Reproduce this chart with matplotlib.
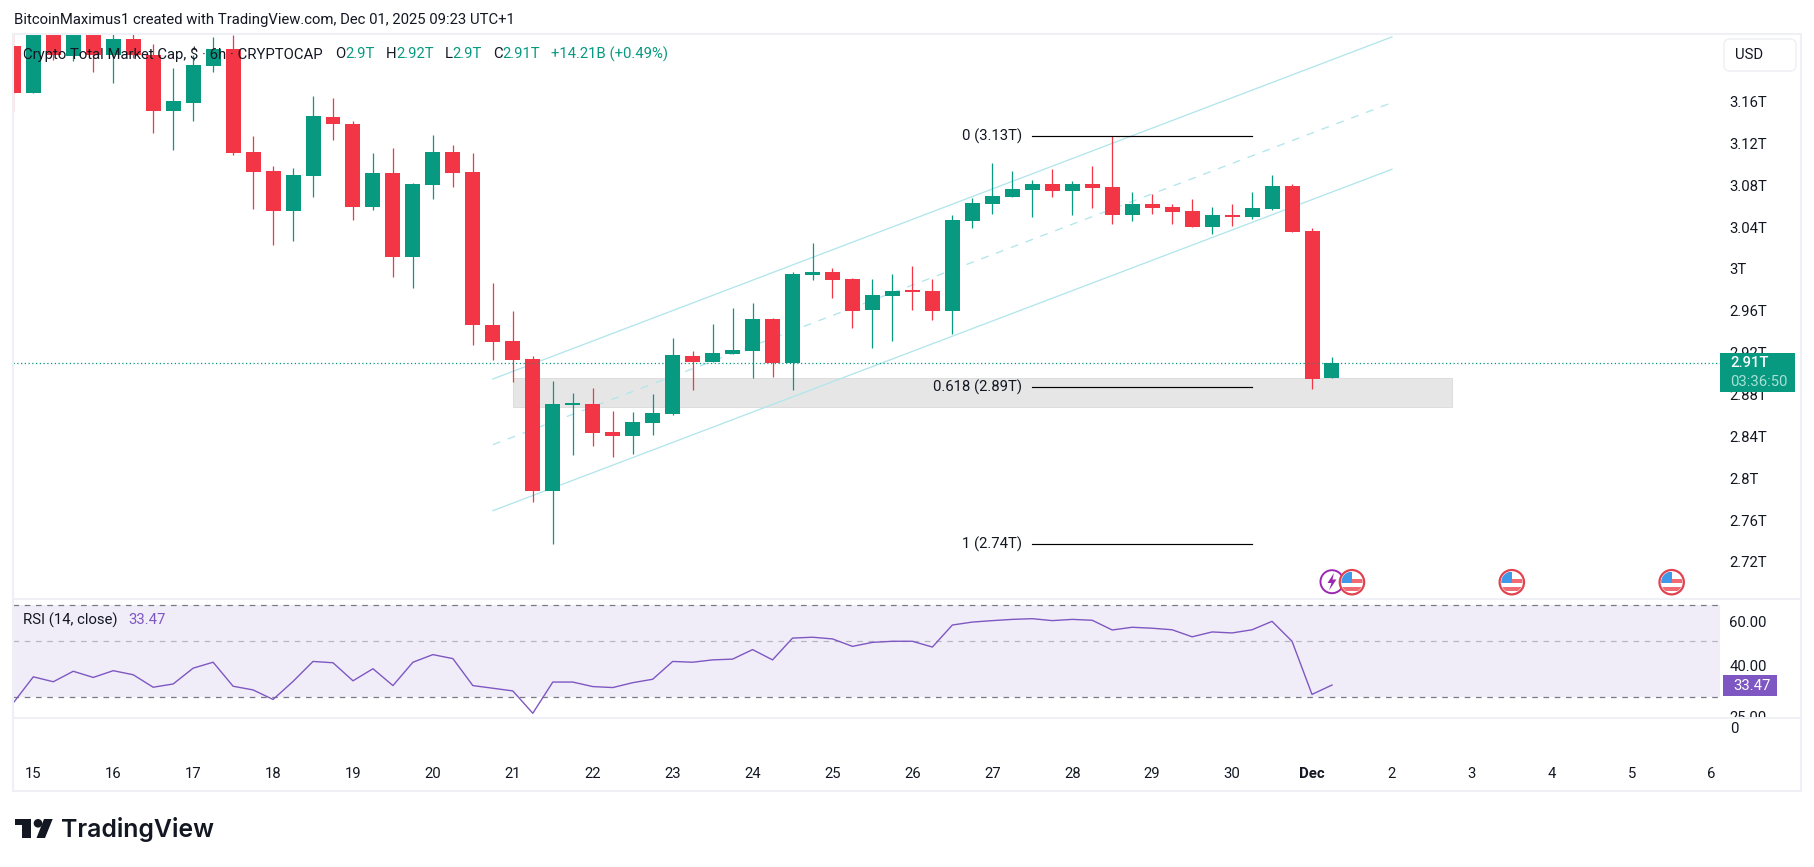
import matplotlib
matplotlib.use("Agg")
import matplotlib.pyplot as plt
from matplotlib.patches import Circle, FancyBboxPatch, Polygon, Rectangle
from matplotlib.ticker import NullLocator
from matplotlib.transforms import Bbox, ScaledTranslation

plt.rcParams["font.family"] = ["Roboto", "DejaVu Sans"]

# Six-hour candles of total crypto market cap, in billions of USD
opens = [3216, 3171, 3241, 3206, 3237, 3207, 3223, 3207, 3154, 3162, 3197, 3213, 3115, 3097, 3058, 3092, 3148,
         3141, 3062, 3095, 3014, 3083, 3115, 3096, 2949, 2934, 2917, 2791, 2873, 2874, 2847, 2843, 2856, 2864,
         2920, 2914, 2922, 2924, 2955, 2913, 2997, 3000, 2993, 2964, 2977, 2982, 2982, 2963, 3049, 3065, 3072,
         3078, 3084, 3077, 3084, 3081, 3054, 3065, 3062, 3058, 3043, 3054, 3053, 3060, 3082, 3039, 2898.5]
highs = [3236, 3250, 3250, 3250, 3245, 3232, 3232, 3218, 3195, 3207, 3225, 3227, 3130, 3101, 3099, 3168, 3166,
         3144, 3114, 3119, 3085, 3131, 3121, 3114, 2989, 2963, 2920, 2896, 2884, 2889, 2867, 2866, 2883, 2937,
         2924, 2950, 2966, 2970, 2956, 3000, 3028, 3004, 2994, 2993, 2998, 3006, 2993, 3054, 3071, 3104, 3097,
         3088, 3098, 3087, 3101, 3130, 3076, 3075, 3065, 3070, 3062, 3065, 3076, 3093, 3084, 3042, 2919]
lows = [3153, 3171, 3203, 3202, 3191, 3181, 3205, 3133, 3117, 3144, 3191, 3112, 3060, 3026, 3030, 3072, 3126,
        3050, 3059, 2995.5, 2985, 3070, 3081, 2930, 2916, 2895, 2780, 2740, 2825, 2834, 2823, 2826, 2844, 2863,
        2887, 2914, 2922, 2899, 2900, 2887, 2992, 2975, 2946, 2927, 2934, 2964, 2954, 2941, 3042, 3055, 3072,
        3053, 3072, 3054, 3061, 3046, 3049, 3055, 3046, 3043, 3036, 3044, 3051, 3059, 3038, 2888, 2898.5]
closes = [3171, 3241, 3207, 3239, 3207, 3223, 3207, 3154, 3163, 3198, 3213, 3114, 3096, 3058, 3093, 3149, 3141,
          3062, 3095, 3014, 3084, 3115, 3095, 2949, 2933, 2916, 2791, 2874, 2874, 2846, 2843, 2857, 2865, 2921,
          2914, 2923, 2925, 2955, 2913, 2998, 3000, 2992, 2963, 2978, 2982, 2981, 2963, 3050, 3066, 3073, 3079,
          3084, 3077, 3084, 3080, 3054, 3065, 3061, 3057, 3043, 3054, 3053, 3061, 3082, 3038, 2898, 2912.7]
first_candle = -1

# RSI(14) for the same candles
rsi = [28.4, 36.1, 34.5, 38.0, 35.9, 38.2, 36.8, 32.8, 33.8, 39.1, 41.3, 33.1, 32.0, 29.3, 34.6, 41.6, 41.1,
       34.8, 38.9, 33.3, 41.3, 44.3, 42.7, 33.3, 32.5, 31.7, 25.8, 34.4, 34.4, 33.0, 32.7, 34.2, 35.3, 41.6,
       41.3, 42.2, 42.5, 46.4, 42.2, 51.6, 52.0, 51.2, 47.8, 49.6, 50.1, 50.1, 47.5, 58.2, 59.8, 60.6, 61.3,
       61.7, 60.6, 61.3, 60.8, 55.6, 57.0, 56.5, 55.7, 52.2, 54.6, 54.1, 55.7, 60.2, 50.1, 30.7, 33.47]
rsi_bands = [70, 50, 30]
rsi_ticks = [60, 40, 25]

# Fibonacci levels and the parallel channel, on the candle-index scale
fib_levels = [3130, 2890, 2740]
fib_names = ["0 (3.13T)", "0.618 (2.89T)", "1 (2.74T)"]
fib_span = [50, 61]
channel_span = [23, 68]
channel_upper = [2897.7, 3224.7]
channel_middle = [2834.9, 3161.9]
channel_lower = [2771.8, 3098.2]
zone_span = [24, 71]
zone_range = [2871.2, 2898.4]

price_ticks = [3160, 3120, 3080, 3040, 3000, 2960, 2920, 2880, 2840, 2800, 2760, 2720]
price_labels = ["3.16T", "3.12T", "3.08T", "3.04T", "3T", "2.96T", "2.92T", "2.88T", "2.84T", "2.8T", "2.76T", "2.72T"]
day_ticks = [0, 4, 8, 12, 16, 20, 24, 28, 32, 36, 40, 44, 48, 52, 56, 60, 64, 68, 72, 76, 80, 84]
day_labels = ["15", "16", "17", "18", "19", "20", "21", "22", "23", "24", "25", "26", "27", "28", "29", "30",
              "Dec", "2", "3", "4", "5", "6"]
last_price = 2912.7
event_candles = [66, 74, 82]

GREEN = "#089981"
RED = "#f23645"
PURPLE = "#7e57c2"
INK = "#131722"
FRAME = "#eef0f5"
CHANNEL = "#b2e6ec"
W, H = 1814, 867
FS = 10.7


def pane(fig, left, top, right, bottom, **kw):
    return fig.add_axes([left / W, 1 - bottom / H, (right - left) / W, (bottom - top) / H], **kw)


fig = plt.figure(figsize=(W / 100, H / 100), dpi=100, facecolor="white")
xlim = (-1.016, 84.42)

# Price pane
ax = pane(fig, 13, 34, 1720, 599)
ax.set_xlim(*xlim)
ax.set_ylim(2687.4, 3227.5)
for s in ax.spines.values():
    s.set_visible(False)
ax.set_xticks([])
ax.yaxis.tick_right()
ax.set_yticks(price_ticks, price_labels)
ax.tick_params(axis="y", length=0, pad=6.6, labelsize=FS, labelcolor=INK)
nudge = ScaledTranslation(0, 3 / 100, fig.dpi_scale_trans)
for tick in ax.yaxis.get_major_ticks():
    tick.label2.set_transform(tick.label2.get_transform() + nudge)

ax.add_patch(Rectangle((zone_span[0], zone_range[0]), zone_span[1] - zone_span[0], zone_range[1] - zone_range[0],
                       facecolor="#e6e6e6", edgecolor="#dddddd", linewidth=0.7, zorder=1))
ax.plot(channel_span, channel_upper, color=CHANNEL, lw=0.95, zorder=2)
ax.plot(channel_span, channel_lower, color=CHANNEL, lw=0.95, zorder=2)
ax.plot(channel_span, channel_middle, color=CHANNEL, lw=0.95, ls=(0, (6, 6)), zorder=2)

for i, (o, h, l, c) in enumerate(zip(opens, highs, lows, closes)):
    k = first_candle + i
    col = GREEN if c >= o else RED
    ax.vlines(k, l, h, color=col, lw=0.9, zorder=3)
    ax.bar(k, max(abs(c - o), 1.4), width=0.75, bottom=min(o, c), color=col, linewidth=0, zorder=4)

ax.axhline(last_price, color=GREEN, lw=0.9, ls=(0, (1, 2)), zorder=5)

for level, name in zip(fib_levels, fib_names):
    ax.plot(fib_span, [level, level], color="black", lw=0.85, zorder=6)
    ax.annotate(name, (fib_span[0], level), xytext=(-7.5, 0), textcoords="offset points",
                ha="right", va="center", fontsize=FS, color=INK, zorder=7)

# RSI pane
rx = pane(fig, 13, 599, 1720, 718)
rx.set_xlim(*xlim)
rx.set_yscale("log")
rx.set_ylim(24.7, 73.97)
for s in rx.spines.values():
    s.set_visible(False)
rx.set_xticks([])
rx.yaxis.tick_right()
rx.yaxis.set_minor_locator(NullLocator())
rx.set_yticks(rsi_ticks, [f"{v:.2f}" for v in rsi_ticks])
rx.yaxis.set_minor_locator(NullLocator())
rx.tick_params(axis="y", length=0, pad=6.6, labelsize=FS, labelcolor=INK)
clip = Bbox([[1720, 867 - 717], [1814, 867 - 599]])
for tick in rx.yaxis.get_major_ticks():
    tick.label2.set_clip_on(True)
    tick.label2.set_clip_box(clip)
rx.axhspan(rsi_bands[2], rsi_bands[0], facecolor=PURPLE, alpha=0.1, linewidth=0, zorder=1)
rx.axhline(rsi_bands[0], color="#787b86", lw=0.9, ls=(0, (4.5, 4.5)), zorder=2)
rx.axhline(rsi_bands[1], color="#b5b7bf", lw=0.9, ls=(0, (4.5, 4.5)), zorder=2)
rx.axhline(rsi_bands[2], color="#787b86", lw=0.9, ls=(0, (4.5, 4.5)), zorder=2)
rx.plot(range(first_candle, first_candle + len(rsi)), rsi, color=PURPLE, lw=1.0, zorder=3)

# Time scale
tx = pane(fig, 13, 718, 1720, 766)
tx.set_xlim(*xlim)
tx.set_yticks([])
for s in tx.spines.values():
    s.set_visible(False)
tx.set_xticks(day_ticks, day_labels)
tx.tick_params(axis="x", length=0, pad=1.0, labelsize=FS, labelcolor=INK)
for lab, txt in zip(tx.get_xticklabels(), day_labels):
    if txt == "Dec":
        lab.set_fontweight("bold")

# Pixel-addressed layer for the window frame, header, legends, price tags and logo
ov = fig.add_axes([0, 0, 1, 1], zorder=10)
ov.set_xlim(0, W)
ov.set_ylim(H, 0)
ov.axis("off")
ov.patch.set_alpha(0)

ov.plot([13, 13, 1801, 1801, 13], [34, 791, 791, 34, 34], color=FRAME, lw=1.5)
ov.plot([13, 1801], [599, 599], color=FRAME, lw=1.4)
ov.plot([13, 1801], [718, 718], color=FRAME, lw=1.4)


def put(x, y, s, color=INK, size=FS, ha="left", **kw):
    ov.text(x, y, s, color=color, fontsize=size, ha=ha, va="center", **kw)


put(13.5, 20, "BitcoinMaximus1 created with TradingView.com, Dec 01, 2025 09:23 UTC+1")
put(23, 54, "Crypto Total Market Cap, $ · 6h · CRYPTOCAP")
for x, s, c in [(335, "O", INK), (345, "2.9T", GREEN), (386, "H", INK), (396, "2.92T", GREEN),
                (445, "L", INK), (452.5, "2.9T", GREEN), (493, "C", INK), (502, "2.91T", GREEN),
                (551, "+14.21B (+0.49%)", GREEN)]:
    put(x, 54, s, color=c)
put(23, 620, "RSI (14, close)")
put(128, 620, "33.47", color=PURPLE)
put(1730, 729, "0")

ov.add_patch(FancyBboxPatch((1728, 43), 64, 24, boxstyle="round,pad=4,rounding_size=6",
                            facecolor="white", edgecolor=FRAME, lw=1.1))
put(1735, 54.6, "USD")

ov.add_patch(Rectangle((1720, 352.7), 75, 39, facecolor=GREEN, edgecolor="none"))
put(1730, 363.3, "2.91T", color="white", fontweight="medium")
put(1730, 381.7, "03:36:50", color="#a8e0d6")
ov.add_patch(Rectangle((1723, 675), 54, 21, facecolor=PURPLE, edgecolor="none"))
put(1733, 685.5, "33.47", color="white")


def flag_icon(cx, cy):
    ring = Circle((cx, cy), 12.2, facecolor="white", edgecolor="#e0434f", lw=1.6, zorder=4)
    ov.add_patch(ring)
    for top, h in [(cy - 3.5, 4.5), (cy + 4.5, 4.5)]:
        band = Rectangle((cx - 11, top), 22, h, facecolor="#ef6a72", edgecolor="none", zorder=5)
        ov.add_patch(band)
        band.set_clip_path(Circle((cx, cy), 10.6, transform=ov.transData))
    canton = Rectangle((cx - 10, cy - 10), 10, 10.5, facecolor="#3f98e8", edgecolor="none", zorder=6)
    ov.add_patch(canton)
    canton.set_clip_path(Circle((cx, cy), 10.6, transform=ov.transData))


# Economic-event markers under the candles, aligned with the candle index
px_per_candle = (1720 - 13) / (xlim[1] - xlim[0])
event_x = [13 + (k - xlim[0]) * px_per_candle for k in event_candles]
ov.add_patch(Circle((event_x[0] - 20, 581.7), 11.5, facecolor="white", edgecolor="#9c27b0", lw=1.4, zorder=3))
ov.add_patch(Polygon([(event_x[0] - 18, 573), (event_x[0] - 24.5, 583), (event_x[0] - 20.5, 583),
                      (event_x[0] - 23, 590.5), (event_x[0] - 15.5, 579.5), (event_x[0] - 19.5, 579.5)],
                     facecolor="#9c27b0", edgecolor="none", zorder=3))
for x in event_x:
    flag_icon(x, 582.2)

# TradingView wordmark
ov.add_patch(Polygon([(15.3, 819), (31, 819), (31, 838), (21.5, 838), (21.5, 825), (15.3, 825)],
                     facecolor="#131722", edgecolor="none"))
ov.add_patch(Circle((38, 823.3), 4.3, facecolor="#131722", edgecolor="none"))
ov.add_patch(Polygon([(44, 819), (52.7, 819), (45, 838), (36.5, 838)], facecolor="#131722", edgecolor="none"))
ov.text(61.5, 829, "TradingView", color="#131722", fontsize=17.9, fontweight="semibold", ha="left", va="center",
        family=["Inter", "DejaVu Sans"])

fig.savefig("out.png", dpi=100, facecolor="white")
